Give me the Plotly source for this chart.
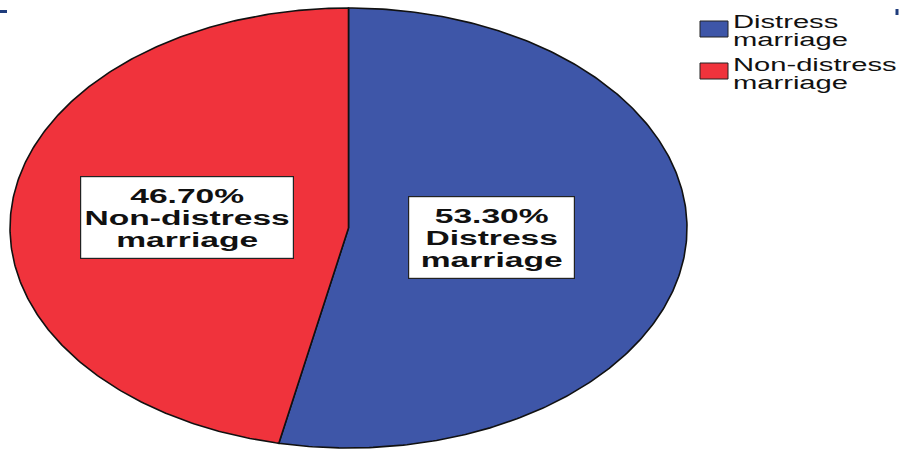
import numpy as np
import plotly.graph_objects as go

# Data
categories = ["Distress marriage", "Non-distress marriage"]
legend_labels = ["Distress<br>marriage", "Non-distress<br>marriage"]
box_labels = ["Distress<br>marriage", "Non-distress<br>marriage"]
percentages = [53.3, 46.7]
colors = ["#3E56A8", "#F0333C"]

W, H = 899, 452

# Elliptical pie geometry (in pixel-like axis units)
cx, cy = 348.5, 228.0
rx, ry = 338.5, 220.0
label_radius = [0.425, 0.48]
box_sizes = [(165, 81), (212, 81)]

fig = go.Figure()

total = sum(percentages)
start = 0.0
mids = []
for name, val, col in zip(categories, percentages, colors):
    frac = val / total
    theta = np.linspace(start, start + frac, 300) * 2 * np.pi
    xs = np.concatenate([[cx], cx + rx * np.sin(theta), [cx]])
    ys = np.concatenate([[cy], cy - ry * np.cos(theta), [cy]])
    fig.add_trace(go.Scatter(
        x=xs, y=ys, mode="lines", fill="toself", fillcolor=col,
        line=dict(color="#111111", width=1.6), name=name,
        showlegend=False, hoverinfo="name",
    ))
    mids.append((start + frac / 2) * 2 * np.pi)
    start += frac

# Value boxes inside the slices
for i, (val, lab, mid) in enumerate(zip(percentages, box_labels, mids)):
    r = label_radius[i]
    lx = cx + rx * r * np.sin(mid)
    ly = cy - ry * r * np.cos(mid)
    bw, bh = box_sizes[i]
    fig.add_annotation(
        x=lx, y=ly, xref="x", yref="y", showarrow=False,
        text=f"{val:.2f}%<br>{lab}",
        font=dict(family="Liberation Sans, Arial", size=20, color="#111111", weight="bold"),
        align="center", bgcolor="white", bordercolor="#222222",
        borderwidth=1.2, borderpad=0, width=bw, height=bh,
        xanchor="center", yanchor="middle", name="valuebox",
    )

# Legend (swatch + two-line label)
legend_y = [30, 73.5]
swatch_y = [(21, 37), (63, 79)]
for lab, col, yy, (s0, s1) in zip(legend_labels, colors, legend_y, swatch_y):
    fig.add_shape(type="rect", xref="x", yref="y",
                  x0=700, x1=728, y0=s0, y1=s1,
                  fillcolor=col, line=dict(color="#222222", width=1))
    fig.add_annotation(
        x=731, y=yy, xref="x", yref="y", showarrow=False,
        text=lab, align="left", xanchor="left", yanchor="middle",
        font=dict(family="Liberation Sans, Arial", size=18, color="#111111"),
        name="legendtext",
    )

# Small page marks at the top edge
fig.add_shape(type="line", xref="x", yref="y", x0=0, x1=7, y0=11.5, y1=11.5,
              line=dict(color="#1F3C7C", width=3))
fig.add_shape(type="line", xref="x", yref="y", x0=897, x1=897, y0=9, y1=15,
              line=dict(color="#1F3C7C", width=3))

fig.update_xaxes(range=[0, W], visible=False, fixedrange=True)
fig.update_yaxes(range=[H, 0], visible=False, fixedrange=True)
fig.update_layout(
    width=W, height=H,
    margin=dict(l=0, r=0, t=0, b=0),
    paper_bgcolor="white", plot_bgcolor="white",
    showlegend=False,
)

# Wide, tightly leaded lettering for the annotation texts:
# stretch glyphs horizontally and tighten the line spacing.
post_js = """
var gd = document.getElementById('{plot_id}');
gd.querySelectorAll('g.annotation text.annotation-text').forEach(function (t) {
  var anchor = t.getAttribute('text-anchor');
  var isLegend = anchor === 'start';
  var STRETCH = isLegend ? 1.62 : 1.68;
  var LEAD = isLegend ? 1.02 : 1.1;
  var b0 = t.getBBox();
  t.querySelectorAll('tspan.line').forEach(function (ln) {
    var dy = parseFloat(ln.getAttribute('dy') || '0');
    ln.setAttribute('dy', (dy * LEAD / 1.3) + 'em');
  });
  var b1 = t.getBBox();
  var ox = isLegend ? b1.x : b1.x + b1.width / 2;
  var shift = (b0.y + b0.height / 2) - (b1.y + b1.height / 2);
  t.setAttribute('transform', 'translate(' + ox + ',' + shift + ') scale(' + STRETCH +
                 ',1) translate(' + (-ox) + ',0)');
});
"""

fig.write_html("out.html", post_script=post_js)
